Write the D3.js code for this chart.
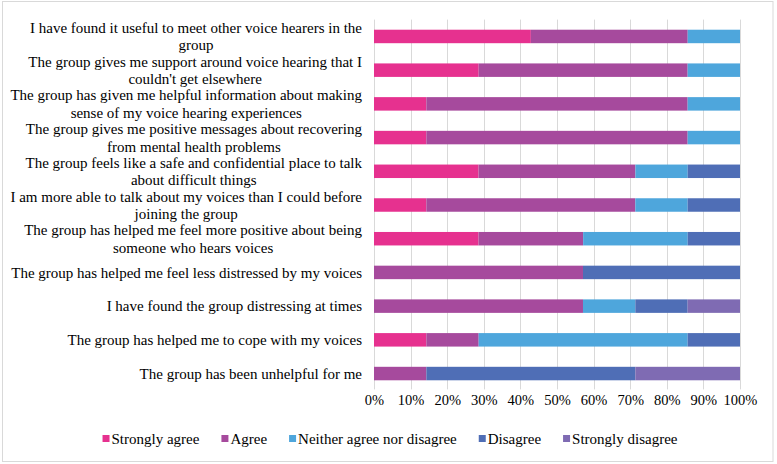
<!DOCTYPE html>
<html>
<head>
<meta charset="utf-8">
<script src="https://cdnjs.cloudflare.com/ajax/libs/d3/7.8.5/d3.min.js"></script>
<style>
  body { margin: 0; background: #fff; }
</style>
</head>
<body>
<div id="chart"></div>
<script>
'use strict';

// statements, already split into the lines they wrap to
var statements = [
  ['I have found it useful to meet other voice hearers in the', 'group'],
  ["The group gives me support around voice hearing that I", "couldn't get elsewhere"],
  ['The group has given me helpful information about making', 'sense of my voice hearing experiences'],
  ['The group gives me positive messages about recovering', 'from mental health problems'],
  ['The group feels like a safe and confidential place to talk', 'about difficult things'],
  ['I am more able to talk about my voices than I could before', 'joining the group'],
  ['The group has helped me feel more positive about being', 'someone who hears voices'],
  ['The group has helped me feel less distressed by my voices'],
  ['I have found the group distressing at times'],
  ['The group has helped me to cope with my voices'],
  ['The group has been unhelpful for me']
];

var responses = ['Strongly agree', 'Agree', 'Neither agree nor disagree', 'Disagree', 'Strongly disagree'];

// percentage of respondents per statement
var stronglyAgree    = [42.9, 28.6, 14.3, 14.3, 28.6, 14.3, 28.6, 0,    0,    14.3, 0];
var agree            = [42.9, 57.1, 71.4, 71.4, 42.9, 57.1, 28.6, 57.1, 57.1, 14.3, 14.3];
var neither          = [14.3, 14.3, 14.3, 14.3, 14.3, 14.3, 28.6, 0,    14.3, 57.1, 0];
var disagree         = [0,    0,    0,    0,    14.3, 14.3, 14.3, 42.9, 14.3, 14.3, 57.1];
var stronglyDisagree = [0,    0,    0,    0,    0,    0,    0,    0,    14.3, 0,    28.6];

var tickValues = [0, 0.1, 0.2, 0.3, 0.4, 0.5, 0.6, 0.7, 0.8, 0.9, 1];

var colors = ['#e6318f', '#a64a9d', '#4ea6dc', '#4f6eb6', '#7f6bb3'];

var FONT = 'Liberation Serif';
var W = 777, H = 464;
var margin = { left: 374, right: 37, top: 19.6, bottom: 73.6 };

// build rows for d3.stack
var rows = statements.map(function(s, i){
  var r = { idx: i };
  r[responses[0]] = stronglyAgree[i];
  r[responses[1]] = agree[i];
  r[responses[2]] = neither[i];
  r[responses[3]] = disagree[i];
  r[responses[4]] = stronglyDisagree[i];
  return r;
});

var stacked = d3.stack()
  .keys(responses)
  .offset(d3.stackOffsetExpand)(rows);

var x = d3.scaleLinear()
  .domain([0, 1])
  .range([margin.left, W - margin.right]);

var y = d3.scaleBand()
  .domain(d3.range(statements.length))
  .range([margin.top, H - margin.bottom])
  .paddingInner(0.6)
  .paddingOuter(0.3);

var svg = d3.select('#chart')
  .append('svg')
  .attr('width', W)
  .attr('height', H)
  .attr('font-family', FONT);

// chart area border
svg.append('rect')
  .attr('x', 2.5).attr('y', 1.5)
  .attr('width', 770.5).attr('height', 460)
  .attr('fill', '#fff')
  .attr('stroke', '#d9d9d9');

// vertical gridlines
svg.append('g')
  .selectAll('line')
  .data(tickValues)
  .enter().append('line')
  .attr('x1', function(d){ return Math.round(x(d)) + 0.5; })
  .attr('x2', function(d){ return Math.round(x(d)) + 0.5; })
  .attr('y1', margin.top)
  .attr('y2', H - margin.bottom - 1)
  .attr('stroke', '#d9d9d9')
  .attr('stroke-width', 1);

// stacked bars
svg.append('g')
  .selectAll('g')
  .data(stacked)
  .enter().append('g')
  .attr('fill', function(d, i){ return colors[i]; })
  .selectAll('rect')
  .data(function(d){ return d; })
  .enter().append('rect')
  .attr('x', function(d){ return x(d[0]); })
  .attr('y', function(d){ return y(d.data.idx); })
  .attr('width', function(d){ return x(d[1]) - x(d[0]); })
  .attr('height', y.bandwidth());

// x axis tick labels
var xAxis = d3.axisBottom(x)
  .tickValues(tickValues)
  .tickSize(0)
  .tickPadding(0)
  .tickFormat(d3.format('.0%'));

var gx = svg.append('g')
  .attr('transform', 'translate(0,400)')
  .call(xAxis)
  .attr('font-family', FONT)
  .attr('font-size', 14.5);
gx.select('.domain').remove();
gx.selectAll('text')
  .attr('y', 0)
  .attr('dy', '0.35em')
  .attr('fill', '#000');

// category labels: wrapped lines centred within a right-aligned block
var labelRight = 362;
var lineGap = 17.5;
var labels = svg.append('g')
  .attr('font-family', FONT)
  .attr('font-size', 15);
statements.forEach(function(lines, i){
  var cy = y(i) + y.bandwidth() / 2;
  var g = labels.append('g');
  var texts = lines.map(function(line, j){
    return g.append('text')
      .attr('y', cy + (j - (lines.length - 1) / 2) * lineGap)
      .attr('dy', '0.35em')
      .attr('text-anchor', 'middle')
      .attr('fill', '#000')
      .text(line);
  });
  var maxW = d3.max(texts, function(t){ return t.node().getComputedTextLength(); });
  texts.forEach(function(t){ t.attr('x', labelRight - maxW / 2); });
});

// legend, laid out from the text widths and centred under the chart
var legend = svg.append('g')
  .attr('transform', 'translate(0,439)')
  .attr('font-family', FONT)
  .attr('font-size', 15);
var items = legend.selectAll('g')
  .data(responses)
  .enter().append('g');

items.append('rect')
  .attr('x', 0).attr('y', -4)
  .attr('width', 7).attr('height', 7)
  .attr('fill', function(d, i){ return colors[i]; });

items.append('text')
  .attr('x', 9)
  .attr('dy', '0.35em')
  .attr('fill', '#000')
  .text(function(d){ return d; });

var pos = 0, starts = [];
items.each(function(){
  starts.push(pos);
  pos += 9 + d3.select(this).select('text').node().getComputedTextLength() + 22;
});
var legendWidth = pos - 22;
var legendLeft = 390 - legendWidth / 2;
items.attr('transform', function(d, i){ return 'translate(' + (legendLeft + starts[i]) + ',0)'; });
</script>
</body>
</html>
